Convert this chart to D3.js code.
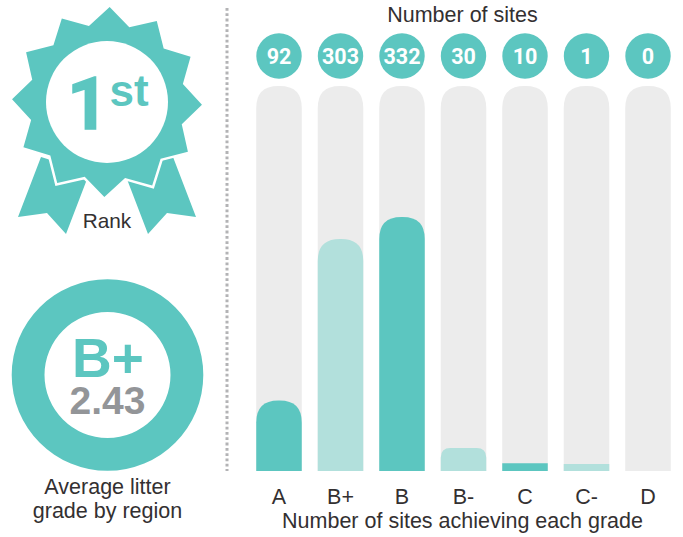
<!DOCTYPE html>
<html>
<head>
<meta charset="utf-8">
<script src="https://cdn.jsdelivr.net/npm/d3@7"></script>
<style>
  html, body { margin: 0; padding: 0; background: #fff; }
  svg { display: block; }
  text { font-family: "Liberation Sans", Arial, sans-serif; }
</style>
</head>
<body>
<svg id="chart" width="683" height="537"></svg>
<script>
const grades = ["A", "B+", "B", "B-", "C", "C-", "D"];
const siteCounts = [92, 303, 332, 30, 10, 1, 0];
const rankNumber = "1";
const rankSuffix = "st";
const averageGrade = "B+";
const averageScore = "2.43";

const teal = "#5cc6c0", paleTeal = "#b2e0dc", track = "#ececec";
const ink = "#333031", slate = "#939598";
const labelSize = 21.5;

const svg = d3.select("#chart");

const x = d3.scaleBand().domain(grades).range([248.25, 678.75])
  .paddingInner(0.26).paddingOuter(0.13);
const y = d3.scaleLinear().domain([0, 503]).range([471, 86]);
const w = x.bandwidth();

// Bar outline with a rounded top; very short bars stay square.
function barPath(left, top, width, bottom) {
  const h = bottom - top;
  const r = h < 15 ? 0 : Math.min(22, h * 0.42);
  const p = d3.path();
  p.moveTo(left, bottom);
  p.lineTo(left, top + r);
  p.quadraticCurveTo(left, top, left + r, top);
  p.lineTo(left + width - r, top);
  p.quadraticCurveTo(left + width, top, left + width, top + r);
  p.lineTo(left + width, bottom);
  p.closePath();
  return p.toString();
}

const rows = grades.map((grade, i) => ({ grade, count: siteCounts[i], i }));

svg.append("g").selectAll("path").data(rows).join("path")
  .attr("d", d => barPath(x(d.grade), y.range()[1], w, y(0)))
  .attr("fill", track);

// Non-zero counts keep a visible sliver of at least 7px.
svg.append("g").selectAll("path").data(rows.filter(d => d.count > 0)).join("path")
  .attr("d", d => barPath(x(d.grade), Math.min(y(d.count), y(0) - 7), w, y(0)))
  .attr("fill", d => d.i % 2 === 0 ? teal : paleTeal);

const bubbles = svg.append("g").selectAll("g").data(rows).join("g")
  .attr("transform", d => `translate(${x(d.grade) + w / 2},56)`);
bubbles.append("circle").attr("r", 22.7).attr("fill", teal);
bubbles.append("text").attr("y", 7.6).attr("text-anchor", "middle")
  .style("font-family", "Roboto, Arial, sans-serif")
  .attr("font-size", 21.5).attr("font-weight", 700).attr("fill", "#fff")
  .text(d => d.count);

svg.append("g").attr("transform", "translate(0,471)")
  .call(d3.axisBottom(x).tickSize(0).tickPadding(18))
  .call(g => g.select(".domain").remove())
  .call(g => g.selectAll("text")
    .attr("font-size", labelSize).attr("fill", ink)
    .style("font-family", '"Liberation Sans", Arial, sans-serif'));

svg.append("text").attr("x", 462.5).attr("y", 22).attr("text-anchor", "middle")
  .attr("font-size", labelSize).attr("fill", ink).text("Number of sites");
svg.append("text").attr("x", 462.5).attr("y", 528).attr("text-anchor", "middle")
  .attr("font-size", labelSize).attr("fill", ink).text("Number of sites achieving each grade");

svg.append("line").attr("x1", 227).attr("x2", 227).attr("y1", 8).attr("y2", 471)
  .attr("stroke", "#b3b3b5").attr("stroke-width", 3)
  .attr("stroke-dasharray", "2.8 2.5");

// Rosette: twelve-pointed star over two ribbon tails.
const cx = 107, cy = 102;
const rosette = svg.append("g").attr("transform", `translate(${cx},${cy})`);
const ribbonTail = [[-66, 55], [-89, 115], [-60, 111], [-41, 132], [-18, 72], [-50, 60]];
[1, -1].forEach(side => {
  rosette.append("path")
    .attr("d", d3.line()(ribbonTail.map(([a, b]) => [side * a, b])) + "Z")
    .attr("fill", teal);
});
const starPoints = d3.range(24).map(i => [
  (i * 15 + 1.6) * Math.PI / 180,
  i % 2 === 0 ? 95 : 78
]);
const starPath = d3.lineRadial().curve(d3.curveLinearClosed)(starPoints);
rosette.append("path").attr("d", starPath)
  .attr("fill", "none").attr("stroke", "#fff").attr("stroke-width", 5);
rosette.append("path").attr("d", starPath).attr("fill", teal);
rosette.append("circle").attr("r", 61).attr("fill", "#fff");

svg.append("text").attr("x", 67).attr("y", 128.5).attr("font-size", 73).attr("font-weight", 700)
  .style("font-family", "Roboto, Arial, sans-serif")
  .attr("stroke", teal).attr("stroke-width", 1.4)
  .attr("fill", teal).text(rankNumber);
svg.append("text").attr("x", 109.5).attr("y", 105.5).attr("font-size", 44).attr("font-weight", 700)
  .attr("fill", teal).text(rankSuffix);
svg.append("text").attr("x", 107).attr("y", 228).attr("text-anchor", "middle")
  .attr("font-size", 20.8).attr("fill", ink).text("Rank");

// Average grade ring.
svg.append("path").attr("transform", "translate(107.5,375)")
  .attr("d", d3.arc().innerRadius(63).outerRadius(95.8).startAngle(0).endAngle(2 * Math.PI)())
  .attr("fill", teal);
svg.append("text").attr("x", 108).attr("y", 377).attr("text-anchor", "middle")
  .attr("font-size", 55).attr("font-weight", 700).attr("fill", teal).text(averageGrade);
svg.append("text").attr("x", 107.5).attr("y", 414).attr("text-anchor", "middle")
  .attr("font-size", 39).attr("font-weight", 700).attr("fill", slate).text(averageScore);
svg.append("text").attr("x", 107.5).attr("y", 493.5).attr("text-anchor", "middle")
  .attr("font-size", labelSize).attr("fill", ink).text("Average litter");
svg.append("text").attr("x", 107.5).attr("y", 518).attr("text-anchor", "middle")
  .attr("font-size", labelSize).attr("fill", ink).text("grade by region");
</script>
</body>
</html>
